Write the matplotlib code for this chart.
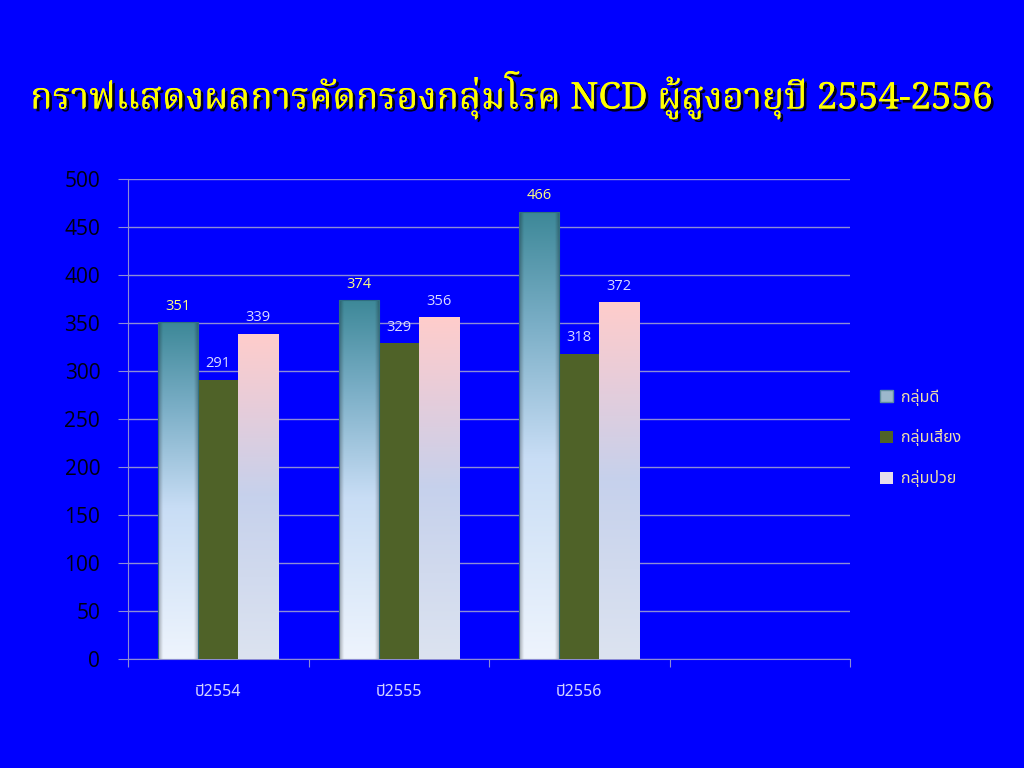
import matplotlib
matplotlib.use("Agg")
import matplotlib.pyplot as plt
import numpy as np
from matplotlib.colors import LinearSegmentedColormap
from matplotlib.patches import Patch
import matplotlib.patheffects as pe

# ---- data ----
years = ["ปี2554", "ปี2555", "ปี2556"]
series_names = ["กลุ่มดี", "กลุ่มเสี่ยง", "กลุ่มป่วย"]
good = [351, 374, 466]
risk = [291, 329, 318]
sick = [339, 356, 372]
yticks = [0, 50, 100, 150, 200, 250, 300, 350, 400, 450, 500]
title = "กราฟแสดงผลการคัดกรองกลุ่มโรค NCD ผู้สูงอายุปี 2554-2556"

BG = "#0000FF"
GRID = "#8C8CD6"
thai_sans = ["Noto Sans Thai", "Open Sans", "DejaVu Sans"]

fig = plt.figure(figsize=(10.24, 7.68), dpi=100, facecolor=BG)
ax = fig.add_axes([128/1024, 1-659/768, (850-128)/1024, (659-179)/768])
ax.set_facecolor(BG)

n_slots = 4
x = np.arange(len(years))
w = 0.222
b1 = ax.bar(x - w, good, w, color="#7FB0C4", edgecolor="#2F6F80", linewidth=0.8, zorder=3)
b2 = ax.bar(x, risk, w, color="#4F6228", edgecolor="none", zorder=3)
b3 = ax.bar(x + w, sick, w, color="#F0D0D8", edgecolor="none", zorder=3)

def gradient_fill(bars, stops, bevel=0.0):
    cmap = LinearSegmentedColormap.from_list("g", stops)
    for r in bars:
        x0, y0 = r.get_x(), r.get_y()
        ww, hh = r.get_width(), r.get_height()
        ny, nx = 256, 64
        v = np.linspace(0, 1, ny)[:, None]
        img = cmap(np.repeat(v, nx, axis=1))[..., :3]
        if bevel > 0:
            u = np.linspace(0, 1, nx)[None, :]
            d = np.minimum(u, 1 - u)
            shade = 1 - bevel * np.clip(1 - d / 0.12, 0, 1)
            img = img * shade[..., None]
        im = ax.imshow(img, extent=[x0, x0 + ww, y0, y0 + hh], origin="lower",
                       aspect="auto", zorder=3.5, interpolation="bilinear")
        im.set_clip_path(r)

gradient_fill(b1, [(0, "#EEF4FD"), (0.45, "#C8DDF5"), (0.75, "#7AAEC6"), (1, "#3D8898")], bevel=0.3)
gradient_fill(b3, [(0, "#DCE3F0"), (0.5, "#C6D1EC"), (0.8, "#EACCD8"), (1, "#FFCDCB")])
for r in b1:
    r.set_facecolor("none")
    r.set_zorder(4)
for r in b3:
    r.set_zorder(2)

ax.set_xlim(-0.5, n_slots - 0.5)
ax.set_ylim(0, 500)
ax.set_yticks(yticks)
ax.yaxis.grid(True, color=GRID, linewidth=1.0)
ax.set_axisbelow(True)
ax.set_xticks(np.arange(n_slots + 1) - 0.5, minor=False)
ax.set_xticklabels([])
ax.set_xticks(x, minor=True)
ax.set_xticklabels(years, minor=True, fontsize=11.5, color="#D4D4FF", family=thai_sans)
ax.tick_params(axis="x", which="minor", length=0, pad=18)
ax.tick_params(axis="x", which="major", length=6, color=GRID, direction="out")
ax.tick_params(axis="y", length=7, color=GRID, labelsize=15, labelcolor="#000010", pad=13)
for lab in ax.get_yticklabels():
    lab.set_family(["Open Sans", "DejaVu Sans"])
for s in ["top", "right"]:
    ax.spines[s].set_visible(False)
ax.spines["left"].set_color(GRID)
ax.spines["bottom"].set_color(GRID)

# data labels
for bars, vals, col in [(b1, good, "#FFFF80"), (b2, risk, "#DCDCFF"), (b3, sick, "#DCDCFF")]:
    for r, v in zip(bars, vals):
        ax.annotate(str(v), (r.get_x() + r.get_width() / 2, v), xytext=(0, 6),
                    textcoords="offset points", ha="center", va="bottom",
                    fontsize=10.5, color=col, family=["Open Sans", "DejaVu Sans"])

handles = [Patch(facecolor="#9CB8CC", edgecolor="#5F8FA0"),
           Patch(facecolor="#4F6228"),
           Patch(facecolor="#E6DDEC")]
leg = fig.legend(handles, series_names, loc="center left", bbox_to_anchor=(866/1024, 1-438/768),
                 frameon=False, handlelength=0.8, handleheight=0.8, labelspacing=1.5,
                 handletextpad=0.5, prop={"family": thai_sans, "size": 11.5})
for t in leg.get_texts():
    t.set_color("#EEDFA8")

fig.text(0.5, 1-95/768, title, ha="center", va="center", fontsize=26.5, fontweight="bold",
         color="#FFFF00", family=["Noto Serif Thai", "DejaVu Serif"],
         path_effects=[pe.withSimplePatchShadow(offset=(2, -2), shadow_rgbFace="black", alpha=0.9), pe.Normal()])

fig.savefig("out.png", dpi=100, facecolor=BG)
